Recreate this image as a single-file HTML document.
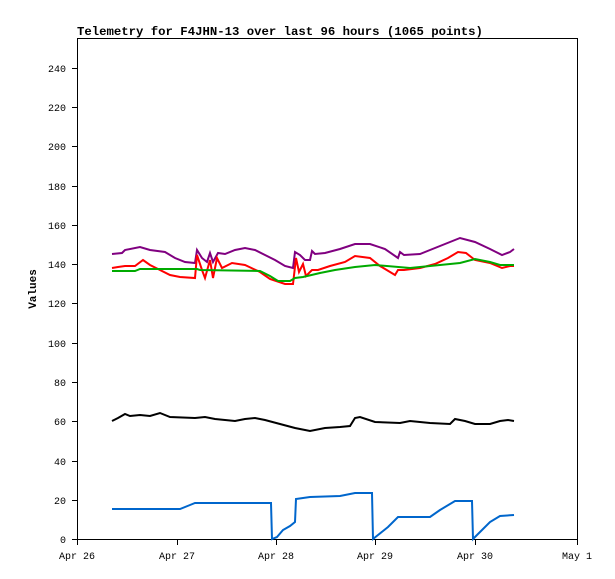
<!DOCTYPE html>
<html><head><meta charset="utf-8"><style>body{margin:0;background:#fff}svg{display:block}</style></head><body>
<svg width="615" height="579" xmlns="http://www.w3.org/2000/svg" font-family="Liberation Mono, monospace">
<rect width="615" height="579" fill="#fff"/>
<text x="77" y="35" font-size="12.3" font-weight="bold">Telemetry for F4JHN-13 over last 96 hours (1065 points)</text>
<rect x="77.5" y="38.5" width="500" height="501" fill="none" stroke="#000" shape-rendering="crispEdges"/>
<g stroke="#000" shape-rendering="crispEdges">
<line x1="72" y1="539.5" x2="77" y2="539.5"/><line x1="72" y1="500.5" x2="77" y2="500.5"/><line x1="72" y1="461.5" x2="77" y2="461.5"/><line x1="72" y1="421.5" x2="77" y2="421.5"/><line x1="72" y1="382.5" x2="77" y2="382.5"/><line x1="72" y1="343.5" x2="77" y2="343.5"/><line x1="72" y1="303.5" x2="77" y2="303.5"/><line x1="72" y1="264.5" x2="77" y2="264.5"/><line x1="72" y1="225.5" x2="77" y2="225.5"/><line x1="72" y1="186.5" x2="77" y2="186.5"/><line x1="72" y1="146.5" x2="77" y2="146.5"/><line x1="72" y1="107.5" x2="77" y2="107.5"/><line x1="72" y1="68.5" x2="77" y2="68.5"/>
<line x1="77.5" y1="539" x2="77.5" y2="545"/><line x1="177.5" y1="539" x2="177.5" y2="545"/><line x1="276.5" y1="539" x2="276.5" y2="545"/><line x1="375.5" y1="539" x2="375.5" y2="545"/><line x1="475.5" y1="539" x2="475.5" y2="545"/><line x1="577.5" y1="539" x2="577.5" y2="545"/>
</g>
<g font-size="10" text-anchor="end">
<text x="66" y="543">0</text><text x="66" y="504">20</text><text x="66" y="465">40</text><text x="66" y="425">60</text><text x="66" y="386">80</text><text x="66" y="347">100</text><text x="66" y="307">120</text><text x="66" y="268">140</text><text x="66" y="229">160</text><text x="66" y="190">180</text><text x="66" y="150">200</text><text x="66" y="111">220</text><text x="66" y="72">240</text>
</g>
<g font-size="10" text-anchor="middle">
<text x="77" y="559">Apr 26</text><text x="177" y="559">Apr 27</text><text x="276" y="559">Apr 28</text><text x="375" y="559">Apr 29</text><text x="475" y="559">Apr 30</text><text x="577" y="559">May 1</text>
</g>
<text transform="translate(36,289) rotate(-90)" font-size="11" font-weight="bold" text-anchor="middle">Values</text>
<g fill="none" stroke-width="2" stroke-linejoin="miter">
<polyline stroke="#800080" points="112,254 122,253 125,250 140,247 150,250 165,252 175,258 185,262 195,263 197,250 202,258 207,262 210,253 213,262 218,253 225,254 235,250 245,248 255,250 265,255 275,260 285,266 293,268 295,252 300,255 305,260 310,260 312,251 315,254 325,253 340,249 355,244 370,244 385,249 398,258 400,252 404,255 420,254 430,250 445,244 460,238 475,242 490,249 502,255 510,252 514,249"/>
<polyline stroke="#ff0000" points="112,268 118,267 125,266 135,266 143,260 150,265 160,270 170,275 180,277 195,278 197,255 202,270 205,278 210,260 213,278 217,258 222,268 232,263 245,265 260,272 270,279 285,284 293,284 296,258 299,272 303,264 306,276 312,270 318,270 330,266 345,262 355,256 370,258 380,266 395,275 398,270 404,270 420,268 435,264 448,258 458,252 466,253 475,260 490,263 502,268 510,266 514,266"/>
<polyline stroke="#00aa00" points="112,271 135,271 140,269 197,269 200,270 260,271 270,276 278,281 290,281 295,278 303,277 320,273 335,270 355,267 375,265 410,268 430,266 460,263 475,259 490,262 500,265 514,265"/>
<polyline stroke="#000000" points="112,421 118,418 125,414 130,416 140,415 150,416 160,413 170,417 195,418 205,417 215,419 235,421 245,419 255,418 265,420 280,424 295,428 310,431 325,428 340,427 350,426 355,418 360,417 375,422 400,423 410,421 430,423 450,424 455,419 465,421 475,424 490,424 500,421 508,420 514,421"/>
<polyline stroke="#0066cc" points="112,509 180,509 190,505 195,503 271,503 272,539 277,537 283,530 290,526 295,522 296,499 310,497 340,496 355,493 372,493 373,539 378,535 388,527 398,517 430,517 440,510 455,501 472,501 473,539 480,532 490,522 500,516 514,515"/>
</g>
</svg>
</body></html>
